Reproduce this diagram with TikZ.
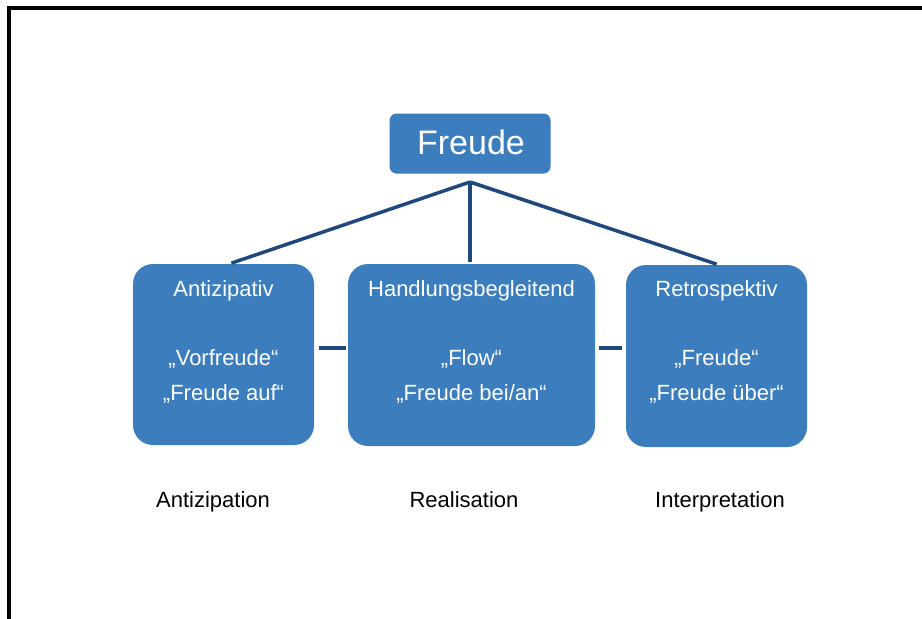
\documentclass[tikz,border=0pt]{standalone}
\usepackage{fontspec}
\setmainfont{Liberation Sans}
\definecolor{boxblue}{HTML}{3C7DBE}
\definecolor{linkblue}{HTML}{1F497D}
\begin{document}
\begin{tikzpicture}[x=1pt,y=-1pt,
  box/.style={fill=boxblue,draw=none,rounded corners=20pt,inner sep=0pt},
  boxtext/.style={text=white,font=\fontsize{22}{26}\selectfont,inner sep=0pt,anchor=base},
  caption/.style={text=black,font=\fontsize{22}{26}\selectfont,inner sep=0pt,anchor=base},
  link/.style={draw=linkblue,line width=3.5pt}]
  % canvas and frame
  \useasboundingbox (0,0) rectangle (922,619);
  \fill[white] (0,0) rectangle (922,619);
  \draw[line width=4pt,black] (9,619) -- (9,8) -- (922,8);

  % boxes
  \node[box,rounded corners=7pt,minimum width=161pt,minimum height=60pt] (freude) at (470,143.5) {};
  \node[box,minimum width=181pt,minimum height=181pt] (ant) at (223.5,354.5) {};
  \node[box,minimum width=247pt,minimum height=182pt] (mid) at (471.5,355) {};
  \node[box,minimum width=181pt,minimum height=182pt] (ret) at (716.5,356) {};

  % box texts
  \node[boxtext,font=\fontsize{34}{38}\selectfont] (freudeT) at (471,154) {Freude};
  \node[boxtext] (antT) at (223.5,296) {Antizipativ};
  \node[boxtext] (antA) at (223.5,365) {„Vorfreude“};
  \node[boxtext] (antB) at (223.5,400) {„Freude auf“};
  \node[boxtext] (midT) at (471.5,296) {Handlungsbegleitend};
  \node[boxtext] (midA) at (471.5,365) {„Flow“};
  \node[boxtext] (midB) at (471.5,400) {„Freude bei/an“};
  \node[boxtext] (retT) at (716.5,296) {Retrospektiv};
  \node[boxtext] (retA) at (716.5,365) {„Freude“};
  \node[boxtext] (retB) at (716.5,400) {„Freude über“};

  % captions below
  \node[caption] (capA) at (213,507) {Antizipation};
  \node[caption] (capR) at (464,507) {Realisation};
  \node[caption] (capI) at (720,507) {Interpretation};

  % tree connectors
  \coordinate (hub) at (470,182);
  \draw[link,shorten >=2pt] (hub) -- ([xshift=6pt]ant.north);
  \draw[link,shorten >=2pt] (hub) -- (470,264);
  \draw[link,shorten >=2pt] (hub) -- ([xshift=2pt]ret.north);

  % short links between neighbouring boxes
  \draw[link,shorten <=5pt,shorten >=2pt] (ant.east |- 0,348) -- (mid.west |- 0,348);
  \draw[link,shorten <=4pt,shorten >=4pt] (mid.east |- 0,348) -- (ret.west |- 0,348);
\end{tikzpicture}
\end{document}
